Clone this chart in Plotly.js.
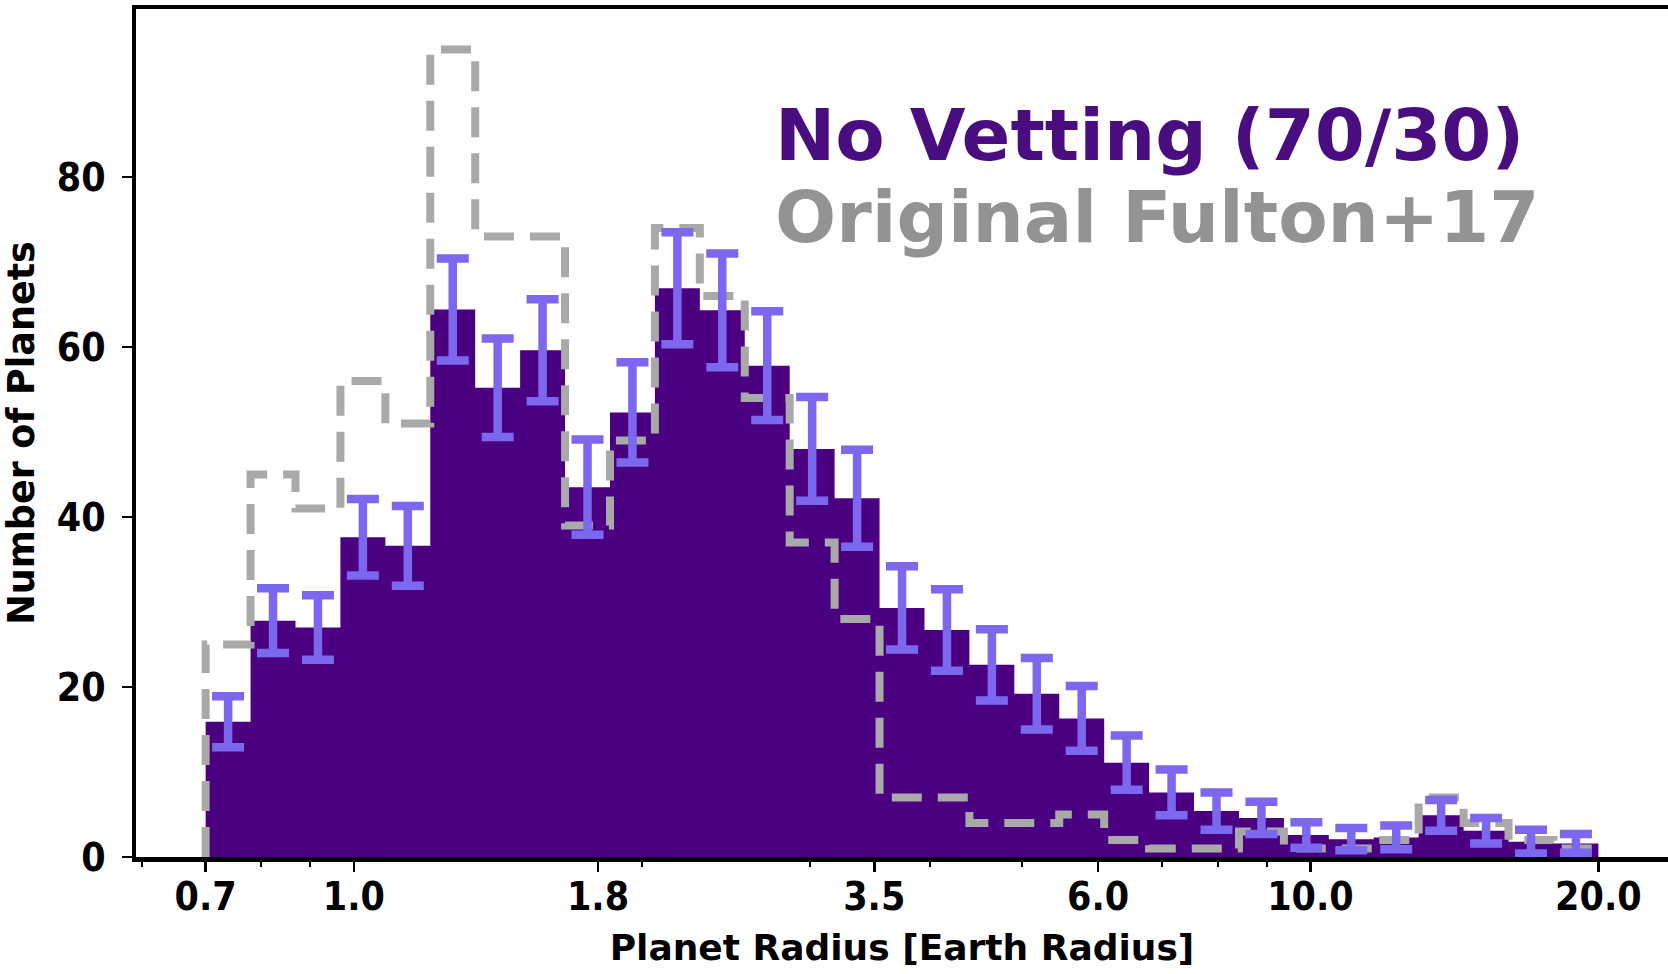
<!DOCTYPE html>
<html>
<head>
<meta charset="utf-8">
<script src="https://cdn.plot.ly/plotly-3.0.1.min.js"></script>
<style>
  html, body { margin: 0; padding: 0; background: #ffffff; }
  #chart { width: 1668px; height: 974px; }
</style>
</head>
<body>
<div id="chart"></div>
<script>
// Histogram definition: 31 log-spaced bins from 0.7 to 20 Earth radii
const binMin = 0.7;
const binMax = 20.0;
const nBins = 31;

// "No Vetting (70/30)" counts per bin
const noVettingCounts = [15.9, 27.8, 27.0, 37.6, 36.6, 64.4, 55.2, 59.6, 43.5, 52.3,
                         66.9, 64.3, 57.8, 48.0, 42.2, 29.3, 26.7, 22.6, 19.2, 16.3,
                         11.1, 7.6, 5.4, 4.6, 2.6, 2.1, 2.3, 4.9, 3.1, 1.8, 1.6];
// error bar half-lengths
const noVettingErrors = [3.0, 3.8, 3.8, 4.5, 4.7, 6.0, 5.8, 6.0, 5.6, 5.9,
                         6.6, 6.7, 6.4, 6.1, 5.7, 4.9, 4.8, 4.2, 4.2, 3.8,
                         3.2, 2.7, 2.2, 1.9, 1.5, 1.3, 1.4, 1.8, 1.5, 1.4, 1.1];
// Original Fulton+17 counts per bin
const fultonCounts = [25, 45, 41, 56, 51, 95, 73, 73, 39, 49,
                      74, 66, 54, 37, 28, 7, 7, 4, 4, 5,
                      2, 1, 1, 3, 1, 1, 2, 7, 4, 2, 1];

// Tick labels
const xTickVals = [0.7, 1.0, 1.8, 3.5, 6.0, 10.0, 20.0];
const xTickText = ['0.7', '1.0', '1.8', '3.5', '6.0', '10.0', '20.0'];
const xMinorVals = [0.6, 0.7, 0.8, 0.9, 2, 3, 4, 5, 6, 7, 8, 9, 20];
const yTickVals = [0, 20, 40, 60, 80];

// bin edges (log spaced) and geometric centres
const lo = Math.log10(binMin), hi = Math.log10(binMax);
const edges = [];
for (let i = 0; i <= nBins; i++) edges.push(Math.pow(10, lo + (hi - lo) * i / nBins));
const centers = [];
for (let i = 0; i < nBins; i++) centers.push(Math.sqrt(edges[i] * edges[i + 1]));

// filled histogram
const fillX = edges.slice();
const fillY = noVettingCounts.concat([noVettingCounts[nBins - 1]]);

// step outline
const stepX = [edges[0]].concat(edges);
const stepY = [0].concat(fultonCounts).concat([0]);

const purple = '#4b0082';
const traces = [
  {
    type: 'scatter', x: fillX, y: fillY, mode: 'lines',
    line: { shape: 'hv', width: 0, color: purple },
    fill: 'tozeroy', fillcolor: purple, hoverinfo: 'skip', showlegend: false
  },
  {
    type: 'scatter', x: stepX, y: stepY, mode: 'lines',
    line: { shape: 'hv', width: 8, color: '#a9a9a9', dash: '30px,16px' },
    hoverinfo: 'skip', showlegend: false
  },
  {
    type: 'scatter', x: centers, y: noVettingCounts, mode: 'markers',
    marker: { size: 1, opacity: 0, color: '#7b68ee' },
    error_y: { type: 'data', array: noVettingErrors, visible: true,
               color: '#7b68ee', thickness: 8.5, width: 16 },
    showlegend: false
  }
];

const tickFont = { family: 'DejaVu Sans Condensed, DejaVu Sans, sans-serif', size: 39, color: '#000', weight: 'bold' };
const titleFont = { family: 'DejaVu Sans, sans-serif', size: 36, color: '#000', weight: 'bold' };

const layout = {
  width: 1668, height: 974,
  margin: { l: 136, r: 0, t: 9, b: 117, pad: 0 },
  paper_bgcolor: '#ffffff', plot_bgcolor: '#ffffff',
  showlegend: false,
  xaxis: {
    type: 'log',
    range: [-0.2277, 1.3738],
    showgrid: false, zeroline: false,
    showline: true, linecolor: '#000', linewidth: 4.5, mirror: true,
    ticks: 'outside', ticklen: 10, tickwidth: 2.5, tickcolor: '#000',
    tickmode: 'array', tickvals: xTickVals, ticktext: xTickText,
    tickfont: tickFont, ticklabelstandoff: -8,
    minor: { tickmode: 'array', tickvals: xMinorVals, ticks: 'outside', ticklen: 5, tickwidth: 2, tickcolor: '#000', showgrid: false },
    title: { text: 'Planet Radius [Earth Radius]', font: titleFont, standoff: 18 },
    automargin: false
  },
  yaxis: {
    range: [0, 99.75],
    showgrid: false, zeroline: false,
    showline: true, linecolor: '#000', linewidth: 4.5, mirror: false,
    ticks: 'outside', ticklen: 10, tickwidth: 2.5, tickcolor: '#000',
    tickmode: 'array', tickvals: yTickVals,
    tickfont: tickFont, ticklabelstandoff: 8,
    title: { text: 'Number of Planets', font: { family: 'DejaVu Sans, sans-serif', size: 36.5, color: '#000', weight: 'bold' }, standoff: 12 },
    automargin: false
  },
  annotations: [
    {
      xref: 'paper', yref: 'paper', x: 0.416, y: 0.852, xanchor: 'left', yanchor: 'middle',
      text: 'No Vetting (70/30)', showarrow: false,
      font: { family: 'DejaVu Sans, sans-serif', size: 72, color: '#4a0d80', weight: 'bold' }
    },
    {
      xref: 'paper', yref: 'paper', x: 0.416, y: 0.755, xanchor: 'left', yanchor: 'middle',
      text: 'Original Fulton+17', showarrow: false,
      font: { family: 'DejaVu Sans, sans-serif', size: 72, color: '#939393', weight: 'bold' }
    }
  ]
};

Plotly.newPlot('chart', traces, layout, { displayModeBar: false, staticPlot: true });
</script>
</body>
</html>
